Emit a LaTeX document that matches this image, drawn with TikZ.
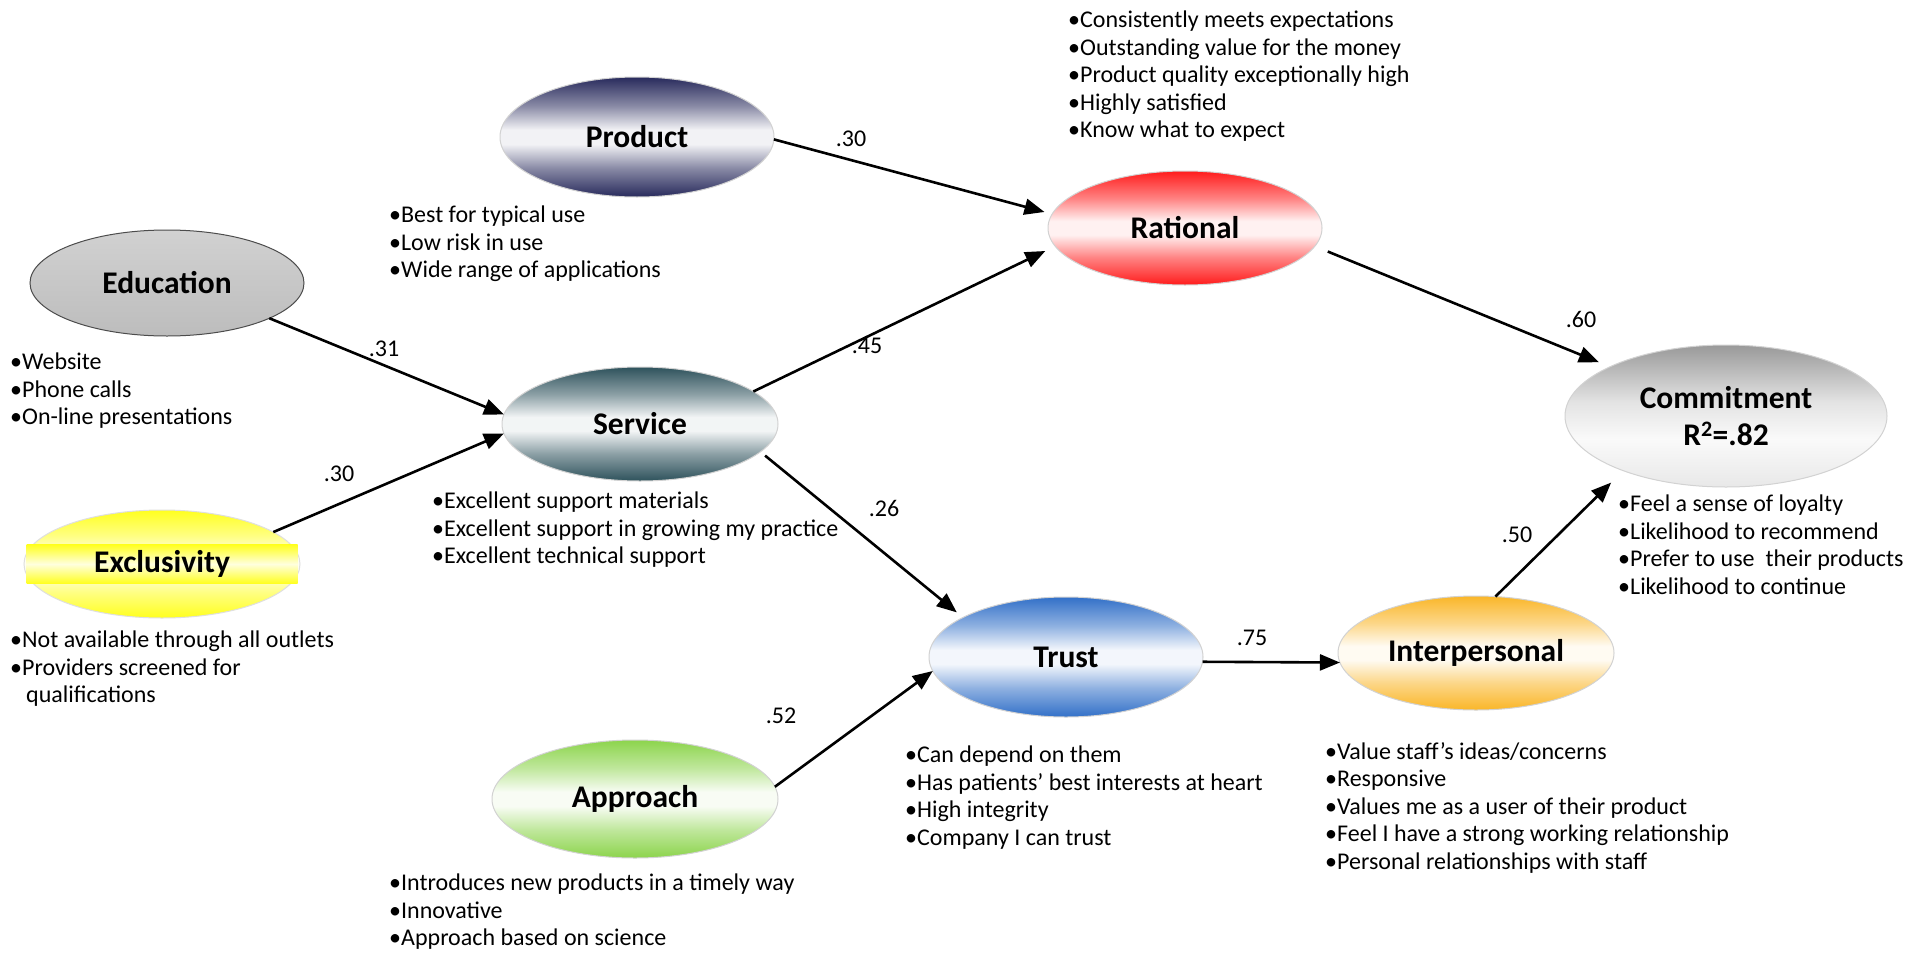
\documentclass[tikz,border=0pt]{standalone}
\usepackage{fontspec}
\setmainfont{Carlito}
\usetikzlibrary{shapes.geometric,arrows.meta}

% factor colours
\definecolor{cprod}{RGB}{40,42,92}
\definecolor{cserv}{RGB}{46,82,92}
\definecolor{crat}{RGB}{255,28,28}
\definecolor{ctrust}{RGB}{50,112,200}
\definecolor{cappr}{RGB}{140,212,76}
\definecolor{cinter}{RGB}{250,182,40}
\definecolor{cexcl}{RGB}{255,255,30}
\colorlet{glosscol}{gray}

% glossy fill: coloured rim at top and bottom, pale band in the middle
\pgfdeclareverticalshading[glosscol]{glossy}{100bp}{%
  color(0bp)=(glosscol); color(25bp)=(glosscol);
  color(37bp)=(glosscol!55!white); color(47bp)=(glosscol!6!white);
  color(53bp)=(glosscol!6!white); color(63bp)=(glosscol!55!white);
  color(75bp)=(glosscol); color(100bp)=(glosscol)}
% grey fill for the outcome node
\pgfdeclareverticalshading{commshade}{100bp}{%
  color(0bp)=(gray!18); color(25bp)=(gray!18);
  color(42bp)=(white!96!gray); color(55bp)=(gray!22);
  color(75bp)=(gray!80); color(100bp)=(gray!80)}

\tikzset{
  factor/.style={ellipse, inner sep=0pt, outer sep=0pt, draw=gray!35,
    line width=1pt, align=center,
    font=\fontsize{31.5}{37}\selectfont\bfseries},
  glossy/.style={factor, shade, shading=glossy,
    /utils/exec={\colorlet{glosscol}{#1}}},
  bullets/.style={anchor=north west, inner sep=0pt, align=left,
    font=\fontsize{24}{27.5}\selectfont},
  coef/.style={inner sep=0pt, font=\fontsize{24}{28}\selectfont},
  link/.style={line width=2.6pt, -{Triangle[length=20pt,width=16pt]}},
}

\begin{document}
\begin{tikzpicture}[x=1pt,y=-1pt]
\fill[white] (0,0) rectangle (1925,953);
\useasboundingbox (0,0) rectangle (1925,953);

% factors
\node[glossy=cprod, minimum width=274pt, minimum height=120pt] (prod) at (637,137) {Product};
\node[factor, top color=gray!36, bottom color=gray!52, draw=gray!60!black,
      minimum width=274pt, minimum height=106pt] (edu) at (167,283) {Education};
\node[glossy=cexcl, draw=gray!25, minimum width=276pt, minimum height=108pt] (excl) at (162,564) {};
\node[rectangle, inner sep=0pt, minimum width=271pt, minimum height=39pt,
      top color=cexcl, bottom color=cexcl, middle color=white!85!cexcl,
      font=\fontsize{31.5}{37}\selectfont\bfseries] (excltxt) at (excl.center) {Exclusivity};
\node[glossy=cserv, minimum width=276pt, minimum height=114pt] (serv) at (640,424) {Service};
\node[glossy=crat, minimum width=274pt, minimum height=114pt] (rat) at (1185,228) {Rational};
\node[glossy=ctrust, minimum width=274pt, minimum height=120pt] (trust) at (1066,657) {Trust};
\node[glossy=cappr, minimum width=286pt, minimum height=118pt] (appr) at (635,799) {Approach};
\node[glossy=cinter, minimum width=276pt, minimum height=114pt] (inter) at (1476,653) {Interpersonal};
\node[factor, shade, shading=commshade, minimum width=322pt, minimum height=142pt]
      (comm) at (1726,416) {Commitment\\R\textsuperscript{2}=.82};

% paths
\draw[link, shorten >=8pt] (prod.-1) -- (rat.174.5);
\draw[link] (edu.-19.8) -- (serv.176);
\draw[link] (excl.16) -- (serv.184.5);
\draw[link, shorten >=11pt] (serv.16.6) -- (rat.188.3);
\draw[link, shorten <=14pt, shorten >=12pt] (rat.-8.8) -- (comm.157.9);
\draw[link, shorten <=6pt, shorten >=8pt] (serv.-13.4) -- (trust.159.6);
\draw[link] (appr.5.8) -- (trust.186.9);
\draw[link] (trust.-2.5) -- (inter.184);
\draw[link, shorten >=17pt] (inter.71) -- (comm.208.3);

% path coefficients
\node[coef] (c1) at (851,139) {.30};
\node[coef] (c2) at (384,349) {.31};
\node[coef] (c3) at (339,474) {.30};
\node[coef] (c4) at (867,346) {.45};
\node[coef] (c5) at (1581,319) {.60};
\node[coef] (c6) at (884,508) {.26};
\node[coef] (c7) at (1517,535) {.50};
\node[coef] (c8) at (1252,638) {.75};
\node[coef] (c9) at (781,716) {.52};

% item lists
\node[bullets] (ratb) at (1068,11) {•Consistently meets expectations\\•Outstanding value for the money\\•Product quality exceptionally high\\•Highly satisfied\\•Know what to expect};
\node[bullets] (prodb) at (389,206) {•Best for typical use\\•Low risk in use\\•Wide range of applications};
\node[bullets] (edub) at (10,353) {•Website\\•Phone calls\\•On-line presentations};
\node[bullets] (exclb) at (10,631) {•Not available through all outlets\\•Providers screened for\\\hspace*{16pt}qualifications};
\node[bullets] (servb) at (432,492) {•Excellent support materials\\•Excellent support in growing my practice\\•Excellent technical support};
\node[bullets] (trustb) at (905,746) {•Can depend on them\\•Has patients’ best interests at heart\\•High integrity\\•Company I can trust};
\node[bullets] (apprb) at (389,874) {•Introduces new products in a timely way\\•Innovative\\•Approach based on science};
\node[bullets] (interb) at (1325,742) {•Value staff’s ideas/concerns\\•Responsive\\•Values me as a user of their product\\•Feel I have a strong working relationship\\•Personal relationships with staff};
\node[bullets] (commb) at (1618,495) {•Feel a sense of loyalty\\•Likelihood to recommend\\•Prefer to use\ \ their products\\•Likelihood to continue};
\end{tikzpicture}
\end{document}
